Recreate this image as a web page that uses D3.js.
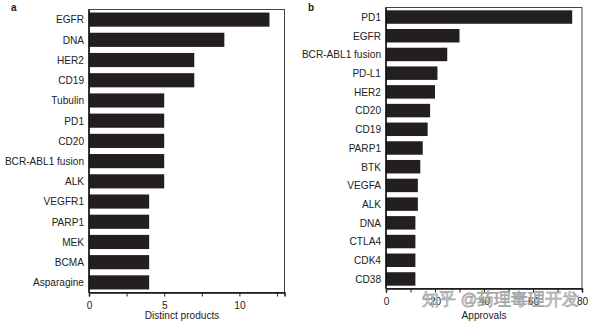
<!DOCTYPE html>
<html><head><meta charset="utf-8">
<script src="https://cdn.jsdelivr.net/npm/d3@7"></script>
<style>
body{margin:0;background:#fff;}
svg{display:block;}
text{font-family:"Liberation Sans Narrow","Arial Narrow","Liberation Sans",Arial,sans-serif;fill:#222;}
</style></head>
<body>
<svg id="c" width="600" height="322"></svg>
<script>
// Panel a: distinct products per target
const catsA = ["EGFR","DNA","HER2","CD19","Tubulin","PD1","CD20","BCR-ABL1 fusion","ALK","VEGFR1","PARP1","MEK","BCMA","Asparagine"];
const valsA = [12,9,7,7,5,5,5,5,5,4,4,4,4,4];
const ticksA = [0,5,10];
const minorA = [2.5,7.5,12.5];

// Panel b: approvals per target
const catsB = ["PD1","EGFR","BCR-ABL1 fusion","PD-L1","HER2","CD20","CD19","PARP1","BTK","VEGFA","ALK","DNA","CTLA4","CDK4","CD38"];
const valsB = [76,30,25,21,20,18,17,15,14,13,13,12,12,12,12];
const ticksB = [0,20,40,60,80];
const minorB = [10,30,50,70];

const svg = d3.select("#c");
const barColor = "#231f20";
const fs = "10.1px";

function panel(o){
  const g = svg.append("g");
  const x = d3.scaleLinear().domain(o.domain).range([o.x0, o.x1]);
  const y = d3.scaleBand().domain(o.cats).range([o.y0, o.y1]).paddingInner(o.pi).paddingOuter(o.po);
  g.append("rect").attr("x", o.x0).attr("y", o.y0).attr("width", o.x1 - o.x0).attr("height", o.y1 - o.y0)
    .attr("fill","none").attr("stroke","#444").attr("stroke-width",1);
  g.selectAll("rect.bar").data(o.cats).join("rect").attr("class","bar")
    .attr("x", x(0)).attr("y", d => y(d))
    .attr("width", (d,i) => x(o.vals[i]) - x(0)).attr("height", y.bandwidth())
    .attr("fill", barColor);
  g.selectAll("text.cat").data(o.cats).join("text").attr("class","cat")
    .attr("x", o.x0 - 5).attr("y", d => y(d) + y.bandwidth()/2).attr("dy","0.38em")
    .attr("text-anchor","end").attr("font-size",fs).text(d => d);
  g.append("line").attr("x1", o.x0).attr("x2", o.x0).attr("y1", o.y0).attr("y2", o.y1)
    .attr("stroke","#111").attr("stroke-width",1.5);
  const ax = g.append("g").attr("transform", `translate(0,${o.y1})`)
    .call(d3.axisBottom(x).tickValues(o.ticks).tickSize(4).tickPadding(5).tickFormat(d3.format("d")));
  ax.select(".domain").attr("stroke","#111").attr("stroke-width",1.5);
  ax.selectAll(".tick line").attr("stroke","#222");
  ax.selectAll(".tick text").attr("font-size",fs).attr("fill","#222")
    .attr("font-family",'"Liberation Sans Narrow","Liberation Sans",Arial,sans-serif');
  const ax2 = g.append("g").attr("transform", `translate(0,${o.y1})`)
    .call(d3.axisBottom(x).tickValues(o.minor).tickSize(4).tickFormat(""));
  ax2.select(".domain").remove();
  ax2.selectAll(".tick line").attr("stroke","#222");
  g.append("text").attr("x", o.tx).attr("y", 318.5).attr("text-anchor","middle")
    .attr("font-size",fs).text(o.title);
  g.append("text").attr("x", o.lx).attr("y", 11).attr("font-weight","bold")
    .attr("font-size","10px").attr("font-family","Liberation Sans, Arial, sans-serif").text(o.letter);
}

panel({cats:catsA, vals:valsA, domain:[0,13], ticks:ticksA, minor:minorA,
  x0:89, x1:284.5, y0:9.5, y1:292.5, pi:0.3, po:0.15, title:"Distinct products", tx:182, lx:11, letter:"a"});
panel({cats:catsB, vals:valsB, domain:[0,80], ticks:ticksB, minor:minorB,
  x0:386, x1:582, y0:7.5, y1:288.5, pi:0.28, po:0.15, title:"Approvals", tx:484, lx:308, letter:"b"});

svg.append("text").attr("x",10).attr("y",329).attr("font-weight","bold").attr("font-size","10px")
  .attr("font-family","Liberation Sans, Arial, sans-serif").text("c");

svg.append("text").attr("x", 422).attr("y", 305).attr("font-size","16.5px")
  .attr("font-family",'"Noto Sans CJK SC", sans-serif')
  .style("fill","#fff").attr("fill-opacity",0.85).attr("stroke","#8a8a8a").attr("stroke-width",0.8)
  .attr("stroke-opacity",0.8).text("知乎 @药理毒理开发");
</script>
</body></html>
